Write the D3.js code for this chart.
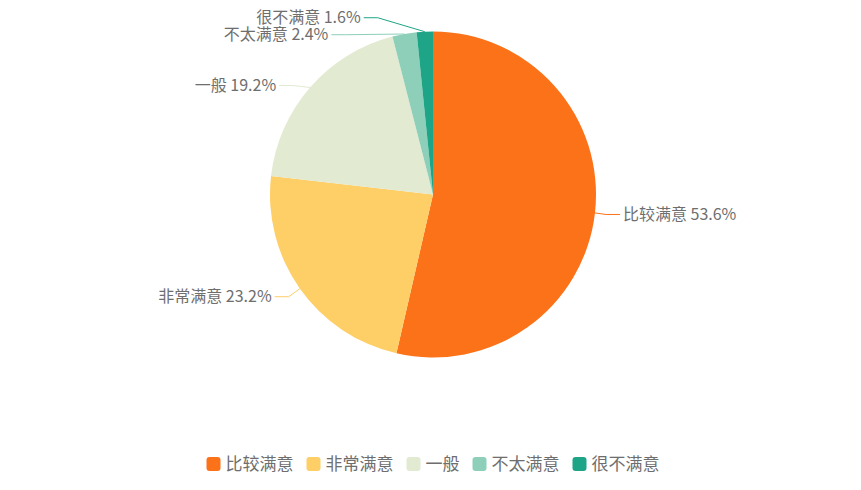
<!DOCTYPE html>
<html>
<head>
<meta charset="utf-8">
<script src="https://cdn.jsdelivr.net/npm/d3@7"></script>
<style>
  html, body { margin: 0; padding: 0; background: #fff; }
  text { font-family: "Noto Sans CJK SC", "Noto Sans", sans-serif; }
</style>
</head>
<body>
<svg id="chart" width="861" height="490"></svg>
<script>
"use strict";

// chart data
const categories = ["比较满意", "非常满意", "一般", "不太满意", "很不满意"];
const values = [53.6, 23.2, 19.2, 2.4, 1.6];
const colors = ["#fc7218", "#fece67", "#e2ead1", "#8dcfb9", "#1ea486"];

const WIDTH = 861, HEIGHT = 490;
const CX = 433, CY = 194.5, R = 163;
const LEN1 = 14, LEN2 = 14, FONT = 16, LEGEND_FONT = 17, LABEL_H = 17, GAP = 3;

let svg = d3.select("#chart");
let color = d3.scaleOrdinal().domain(categories).range(colors);

let pie = d3.pie().sort(null).value((d) => d.value);
let arcs = pie(categories.map((c, i) => ({name: c, value: values[i]})));
let arc = d3.arc().innerRadius(0).outerRadius(R);

let g = svg.append("g").attr("transform", "translate(" + CX + "," + CY + ")");

g.selectAll("path.slice")
    .data(arcs)
    .enter()
    .append("path")
    .attr("class", "slice")
    .attr("d", arc)
    .attr("fill", (d) => color(d.data.name));

// labels: natural spot first, then spread them on each side
let labels = arcs.map((d) =>
{
    let a = (d.startAngle + d.endAngle) / 2;
    let s = Math.sin(a), c = -Math.cos(a);
    return {
        d: d,
        dir: s >= 0 ? 1 : -1,
        p0: [R * s, R * c],
        y: (R + LEN1) * c,
        x: (R + LEN1) * s + (s >= 0 ? 1 : -1) * (LEN2 + GAP)
    };
});

function adjustSide(list)
{
    list.sort((a, b) => a.y - b.y);
    const top = -CY, bottom = HEIGHT - CY;

    function shiftUp(end, delta)
    {
        for (let j = end; j >= 0; j--)
        {
            if (list[j].y - delta < top)
                break;
            list[j].y -= delta;
            if (j > 0 && list[j].y > list[j - 1].y + LABEL_H)
                break;
        }
    }

    function shiftDown(start, end, delta)
    {
        for (let j = start; j < end; j++)
        {
            if (list[j].y + delta > bottom)
                break;
            list[j].y += delta;
            if (j > start && j + 1 < end && list[j + 1].y > list[j].y + LABEL_H)
            {
                shiftUp(j, delta / 2);
                return;
            }
        }
        shiftUp(end - 1, delta / 2);
    }

    let lastY = top;
    for (let i = 0; i < list.length; i++)
    {
        let delta = list[i].y - lastY;
        if (delta < 0)
            shiftDown(i, list.length, -delta);
        lastY = list[i].y + LABEL_H;
    }

    const outer = 191;
    list.forEach((l) =>
    {
        let dy = Math.abs(l.y);
        if (dy < R + LEN1)
            l.x = l.dir * Math.sqrt(outer * outer - dy * dy);
    });
}

adjustSide(labels.filter((l) => l.dir > 0));
adjustSide(labels.filter((l) => l.dir < 0));

labels.forEach((l) =>
{
    let ex = l.x - l.dir * GAP;
    let bx = ex - l.dir * LEN2;
    g.append("polyline")
        .attr("points", [l.p0, [bx, l.y], [ex, l.y]].map((p) => p.join(",")).join(" "))
        .attr("fill", "none")
        .attr("stroke", color(l.d.data.name))
        .attr("stroke-width", 1);
    g.append("text")
        .attr("x", l.x)
        .attr("y", l.y)
        .attr("dy", "0.35em")
        .attr("text-anchor", l.dir > 0 ? "start" : "end")
        .attr("font-size", FONT)
        .attr("fill", "#6e6e6e")
        .text(l.d.data.name + " " + l.d.data.value.toFixed(1) + "%");
});

// legend
let legend = svg.append("g").attr("class", "legend");
let x = 0;
categories.forEach((c) =>
{
    let item = legend.append("g").attr("transform", "translate(" + x + ",0)");
    item.append("rect")
        .attr("x", 0).attr("y", -7)
        .attr("width", 14).attr("height", 14)
        .attr("rx", 3)
        .attr("fill", color(c));
    let t = item.append("text")
        .attr("x", 19)
        .attr("dy", "0.35em")
        .attr("font-size", LEGEND_FONT)
        .attr("fill", "#6e6e6e")
        .text(c);
    x += 19 + t.node().getComputedTextLength() + 13;
});
let lw = x - 13;
legend.attr("transform", "translate(" + (433 - lw / 2) + ",464)");
</script>
</body>
</html>
